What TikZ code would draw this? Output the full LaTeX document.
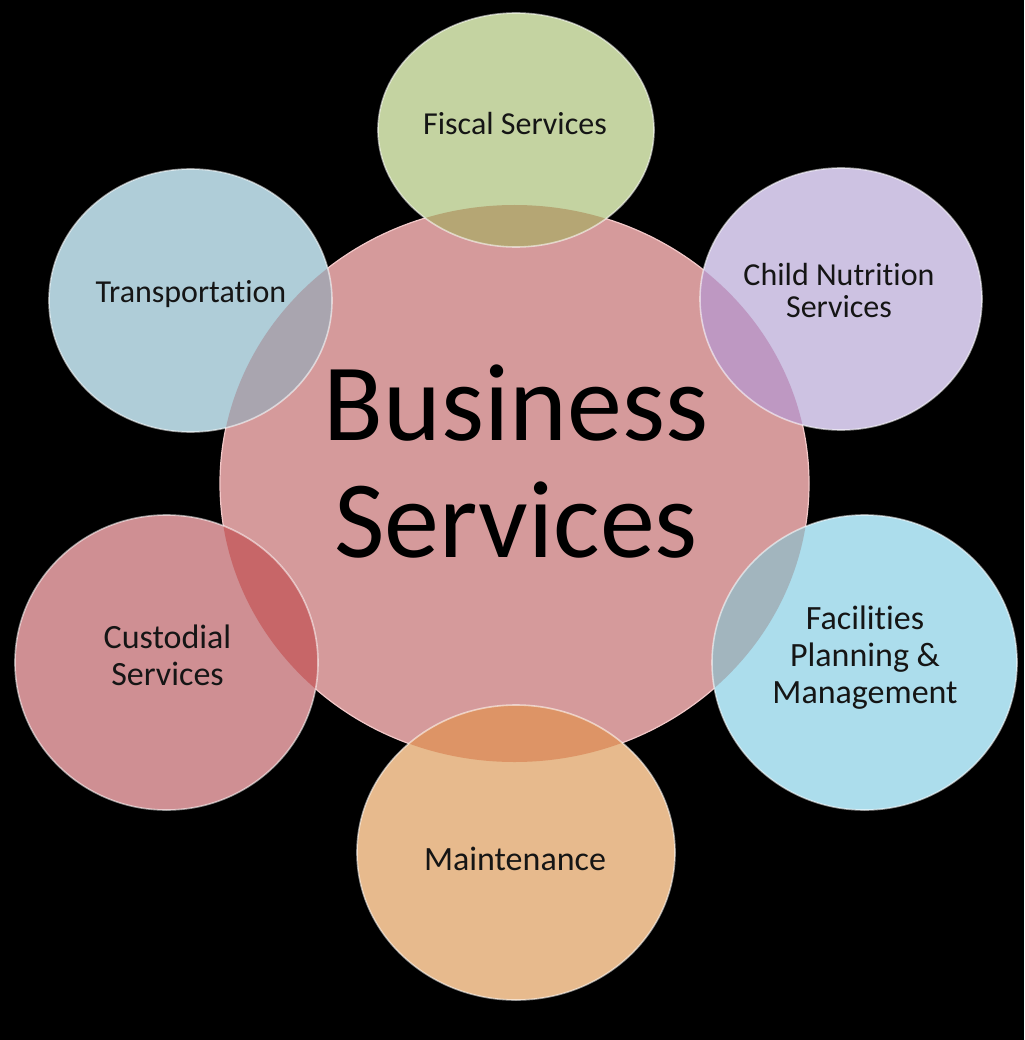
\documentclass[tikz,border=0pt]{standalone}
\usepackage{fontspec}
\setmainfont[Ligatures=NoCommon]{Carlito}
\definecolor{cBus}{HTML}{D59A9B}
\definecolor{cBusEdge}{HTML}{F2C8C8}
\definecolor{cFis}{HTML}{C4D3A1}
\definecolor{cFisO}{HTML}{B5A674}
\definecolor{cChi}{HTML}{CDC2E2}
\definecolor{cChiO}{HTML}{BE98C2}
\definecolor{cTra}{HTML}{AFCDD8}
\definecolor{cTraO}{HTML}{A9A5AF}
\definecolor{cFac}{HTML}{ACDDEC}
\definecolor{cFacO}{HTML}{A2B5BE}
\definecolor{cCus}{HTML}{CF8F93}
\definecolor{cCusO}{HTML}{C76668}
\definecolor{cMai}{HTML}{E7BA8D}
\definecolor{cMaiO}{HTML}{DD9466}
\definecolor{cTxt}{HTML}{151515}
\newcommand\drawsat[5]{% center, rx, ry, fill, overlap fill
  \fill[#4] (#1) ellipse [x radius=#2, y radius=#3];
  \begin{scope}
    \clip (bc) ellipse [x radius=294.5, y radius=278.5];
    \fill[#5] (#1) ellipse [x radius=#2, y radius=#3];
  \end{scope}
  \draw[satedge] (#1) ellipse [x radius=#2, y radius=#3];
}
\begin{document}
\begin{tikzpicture}[x=1pt,y=-1pt,
  satedge/.style={draw=white, draw opacity=0.55, line width=1.6pt},
  small/.style={font=\fontsize{32}{32}\selectfont, text=cTxt, align=center, anchor=base, inner sep=0pt},
  mid/.style={font=\fontsize{34}{37}\selectfont, text=cTxt, align=center, anchor=base, inner sep=0pt},
  big/.style={font=\fontsize{110}{117}\selectfont, text=black, align=center, anchor=base, inner sep=0pt}]
\fill[black] (0,0) rectangle (1024,1040);
\useasboundingbox (0,0) rectangle (1024,1040);
\coordinate (bc) at (514.5,483.5);
\coordinate (fis) at (516,130);
\coordinate (chi) at (841,299);
\coordinate (tra) at (190.5,300.5);
\coordinate (fac) at (864.5,662.5);
\coordinate (cus) at (166.5,662.5);
\coordinate (mai) at (516,852.5);
% central
\fill[cBus] (bc) ellipse [x radius=294.5, y radius=278.5];
\draw[draw=cBusEdge, line width=1.2pt] (bc) ellipse [x radius=294.5, y radius=278.5];
% satellites
\drawsat{fis}{138}{117}{cFis}{cFisO}
\drawsat{chi}{141}{131}{cChi}{cChiO}
\drawsat{tra}{141.5}{131.5}{cTra}{cTraO}
\drawsat{fac}{152.5}{147.5}{cFac}{cFacO}
\drawsat{cus}{151.5}{147.5}{cCus}{cCusO}
\drawsat{mai}{159}{147.5}{cMai}{cMaiO}
% labels (base anchor = last line's baseline)
\node[big] (tbus) at (516,557) {Business\\Services};
\node[small] (tfis) at (515,135) {Fiscal Services};
\node[small] (tchi) at (839,317) {Child Nutrition\\Services};
\node[small] (ttra) at (191,302) {Transportation};
\node[mid] (tfac) at (865,703) {Facilities\\Planning \&\\Management};
\node[mid] (tcus) at (167.5,685) {Custodial\\Services};
\node[mid] (tmai) at (515,870) {Maintenance};
\end{tikzpicture}
\end{document}
